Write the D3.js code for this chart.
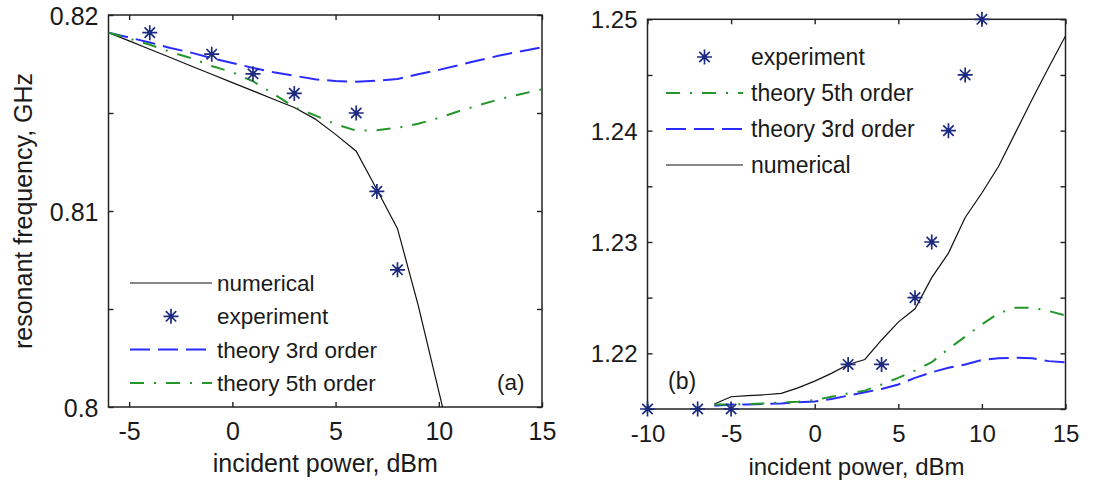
<!DOCTYPE html>
<html>
<head>
<meta charset="utf-8">
<style>
  body { margin: 0; background: #fff; }
  text { font-family: "Liberation Sans", Arial, sans-serif; fill: #1a1a1a; }
</style>
</head>
<body>
<svg width="1106" height="483"></svg>
<script src="https://cdn.jsdelivr.net/npm/d3@7/dist/d3.min.js"></script>
<script>

// ---- panel (a): resonant frequency vs incident power, GHz ----
var powerA = [-6,-5,-4,-3,-2,-1,0,1,2,3,4,5,6,7,8,9,10,11,12,13,14,15];
var numPowerA = [-6,-5,-4,-3,-2,-1,0,1,2,3,4,5,6,7,8,9,10,10.5];
var numericalA = [0.8191,0.81868,0.81825,0.81783,0.8174,0.81698,0.81655,0.81613,0.8157,0.81528,
                  0.8147,0.81391,0.81305,0.8111,0.8091,0.8052,0.8008,0.7986];
var theory3A = [0.8191,0.81885,0.8186,0.81832,0.81808,0.8178,0.81755,0.8173,0.81708,0.8169,0.81672,
                0.81663,0.8166,0.81665,0.81673,0.81698,0.8172,0.81745,0.8177,0.81795,0.81815,0.81835];
var theory5A = [0.8191,0.8188,0.81848,0.81812,0.8178,0.8174,0.81708,0.81662,0.81598,0.8153,0.81488,
                0.81443,0.8141,0.81412,0.81425,0.81445,0.81475,0.8151,0.81542,0.81572,0.81597,0.81621];
var expPowerA = [-4,-1,1,3,6,7,8];
var experimentA = [0.8191,0.818,0.817,0.816,0.815,0.811,0.807];
var xTicksA = [-5,0,5,10,15];
var yTicksA = [0.8,0.805,0.81,0.815,0.82];
var yLabelsA = [0.8,0.81,0.82];

// ---- panel (b) ----
var powerB = [-6,-5,-4,-3,-2,-1,0,1,2,3,4,5,6,7,8,9,10,11,12,13,14,15];
var numericalB = [1.21545,1.2161,1.2162,1.21628,1.2164,1.2169,1.2175,1.2182,1.219,1.21945,1.2212,
                  1.2228,1.224,1.2268,1.229,1.2322,1.2344,1.2368,1.2398,1.2428,1.2457,1.2485];
var theory5B = [1.2154,1.2154,1.21545,1.2155,1.2156,1.21565,1.2158,1.2161,1.2164,1.21665,1.2172,
                1.2178,1.21845,1.2192,1.2204,1.2215,1.2226,1.2236,1.2241,1.2241,1.2238,1.2234];
var theory3B = [1.2153,1.2154,1.2154,1.21545,1.2155,1.2156,1.21567,1.2159,1.2162,1.2165,1.2168,
                1.2172,1.2178,1.2183,1.2187,1.219,1.2194,1.21955,1.2196,1.21955,1.2193,1.2192];
var expPowerB = [-10,-7,-5,2,4,6,7,8,9,10];
var experimentB = [1.215,1.215,1.215,1.219,1.219,1.225,1.23,1.24,1.245,1.25];
var xTicksB = [-10,-5,0,5,10,15];
var yTicksB = [1.215,1.22,1.225,1.23,1.235,1.24,1.245,1.25];
var yLabelsB = [1.22,1.23,1.24,1.25];

var styles = {
  numerical:  { stroke: "#111", width: 1.2, dash: null },
  theory3:    { stroke: "#2b2bff", width: 2, dash: "20,8" },
  theory5:    { stroke: "#24962a", width: 2, dash: "14,10,2,10" },
  experiment: { stroke: "#1c2b7f" }
};

var svg = d3.select("svg");
svg.append("rect").attr("width", 1106).attr("height", 483).attr("fill", "#fff");

function star(sel, cx, cy) {
  var s = sel.append("g").attr("transform", "translate(" + cx + "," + cy + ")")
      .attr("stroke", styles.experiment.stroke).attr("stroke-width", 1.7).attr("fill", styles.experiment.stroke);
  s.append("path").attr("d", "M-7.5,0H7.5M0,-7.5V7.5M-5.2,-5.2L5.2,5.2M-5.2,5.2L5.2,-5.2");
  s.append("circle").attr("r", 2.4).attr("stroke", "none");
}

function drawPanel(o) {
  var x = d3.scaleLinear().domain(o.xDomain).range(o.xRange);
  var y = d3.scaleLinear().domain(o.yDomain).range(o.yRange);
  var g = svg.append("g").attr("font-size", o.fontSize);

  g.append("clipPath").attr("id", o.id + "clip")
    .append("rect")
      .attr("x", o.xRange[0]).attr("y", o.yRange[1])
      .attr("width", o.xRange[1] - o.xRange[0]).attr("height", o.yRange[0] - o.yRange[1]);

  var fmtX = function(d) { return String(d); };  // plain hyphen, like the original
  var fmtY = function(d) { return o.yLabels.some(function(v) { return Math.abs(v - d) < 1e-9; }) ? String(+d.toFixed(3)) : ""; };

  // axes with inward ticks on all four sides
  var bottom = g.append("g").attr("transform", "translate(0," + o.yRange[0] + ")")
      .call(d3.axisBottom(x).tickValues(o.xTicks).tickSizeInner(-5).tickSizeOuter(0).tickFormat(fmtX));
  var top = g.append("g").attr("transform", "translate(0," + o.yRange[1] + ")")
      .call(d3.axisTop(x).tickValues(o.xTicks).tickSizeInner(-5).tickSizeOuter(0).tickFormat(""));
  var left = g.append("g").attr("transform", "translate(" + o.xRange[0] + ",0)")
      .call(d3.axisLeft(y).tickValues(o.yTicks).tickSizeInner(-5).tickSizeOuter(0).tickPadding(10).tickFormat(fmtY));
  var right = g.append("g").attr("transform", "translate(" + o.xRange[1] + ",0)")
      .call(d3.axisRight(y).tickValues(o.yTicks).tickSizeInner(-5).tickSizeOuter(0).tickFormat(""));

  [bottom, top, left, right].forEach(function(a) {
    a.select(".domain").remove();
    a.attr("font-family", null).attr("font-size", null);
    a.selectAll("line").attr("stroke", "#222").attr("stroke-width", 1.4);
    a.selectAll("text").attr("fill", "#1a1a1a");
  });
  bottom.selectAll("text").attr("dy", null).attr("y", 33);
  left.selectAll("text").attr("dy", "0.36em");

  g.append("rect")
    .attr("x", o.xRange[0]).attr("y", o.yRange[1])
    .attr("width", o.xRange[1] - o.xRange[0]).attr("height", o.yRange[0] - o.yRange[1])
    .attr("fill", "none").attr("stroke", "#222").attr("stroke-width", 1.5);

  var plot = g.append("g").attr("clip-path", "url(#" + o.id + "clip)");
  o.series.forEach(function(s) {
    var st = styles[s.key];
    var pts = s.x.map(function(d, i) { return [d, s.y[i]]; });
    plot.append("path")
      .attr("d", d3.line().x(function(d) { return x(d[0]); }).y(function(d) { return y(d[1]); })(pts))
      .attr("fill", "none").attr("stroke", st.stroke).attr("stroke-width", st.width)
      .attr("stroke-dasharray", st.dash);
  });
  o.exp.x.forEach(function(d, i) { star(g, x(d), y(o.exp.y[i])); });

  // legend
  o.legend.entries.forEach(function(e, i) {
    var yy = o.legend.y + i * o.legend.step;
    if (e.key === "experiment") {
      star(g, (o.legend.x0 + o.legend.x1) / 2, yy - 8);
    } else {
      var st = styles[e.key];
      g.append("line").attr("x1", o.legend.x0).attr("x2", o.legend.x1).attr("y1", yy - 8).attr("y2", yy - 8)
        .attr("stroke", st.stroke).attr("stroke-width", st.width).attr("stroke-dasharray", st.dash);
    }
    g.append("text").attr("x", o.legend.tx).attr("y", yy).attr("font-size", o.legend.fontSize).text(e.label);
  });

  g.append("text").attr("x", o.tag[0]).attr("y", o.tag[1]).attr("font-size", o.legend.fontSize).text(o.tag[2]);

  g.append("text").attr("x", (o.xRange[0] + o.xRange[1]) / 2).attr("y", o.xLabelY)
    .attr("text-anchor", "middle").text("incident power, dBm");
  if (o.yLabel) {
    g.append("text").attr("transform", "translate(32," + ((o.yRange[0] + o.yRange[1]) / 2) + ") rotate(-90)")
      .attr("text-anchor", "middle").text(o.yLabel);
  }
}

drawPanel({
  id: "a", fontSize: 25,
  xDomain: [-6, 15], xRange: [108.5, 542],
  yDomain: [0.8, 0.82], yRange: [407, 15],
  xTicks: xTicksA, yTicks: yTicksA, yLabels: yLabelsA,
  series: [
    { key: "numerical", x: numPowerA, y: numericalA },
    { key: "theory3", x: powerA, y: theory3A },
    { key: "theory5", x: powerA, y: theory5A }
  ],
  exp: { x: expPowerA, y: experimentA },
  legend: { x0: 130, x1: 212, tx: 217, y: 291, step: 33.3, fontSize: 22.5,
    entries: [
      { key: "numerical", label: "numerical" },
      { key: "experiment", label: "experiment" },
      { key: "theory3", label: "theory 3rd order" },
      { key: "theory5", label: "theory 5th order" }
    ] },
  tag: [497, 390, "(a)"],
  xLabelY: 472,
  yLabel: "resonant frequency, GHz"
});

drawPanel({
  id: "b", fontSize: 24,
  xDomain: [-10, 15], xRange: [647.5, 1065.5],
  yDomain: [1.215, 1.25], yRange: [409, 19.3],
  xTicks: xTicksB, yTicks: yTicksB, yLabels: yLabelsB,
  series: [
    { key: "numerical", x: powerB, y: numericalB },
    { key: "theory3", x: powerB, y: theory3B },
    { key: "theory5", x: powerB, y: theory5B }
  ],
  exp: { x: expPowerB, y: experimentB },
  legend: { x0: 666, x1: 743, tx: 751, y: 65, step: 36, fontSize: 23,
    entries: [
      { key: "experiment", label: "experiment" },
      { key: "theory5", label: "theory 5th order" },
      { key: "theory3", label: "theory 3rd order" },
      { key: "numerical", label: "numerical" }
    ] },
  tag: [668, 389, "(b)"],
  xLabelY: 475,
  yLabel: null
});

</script>
</body>
</html>
